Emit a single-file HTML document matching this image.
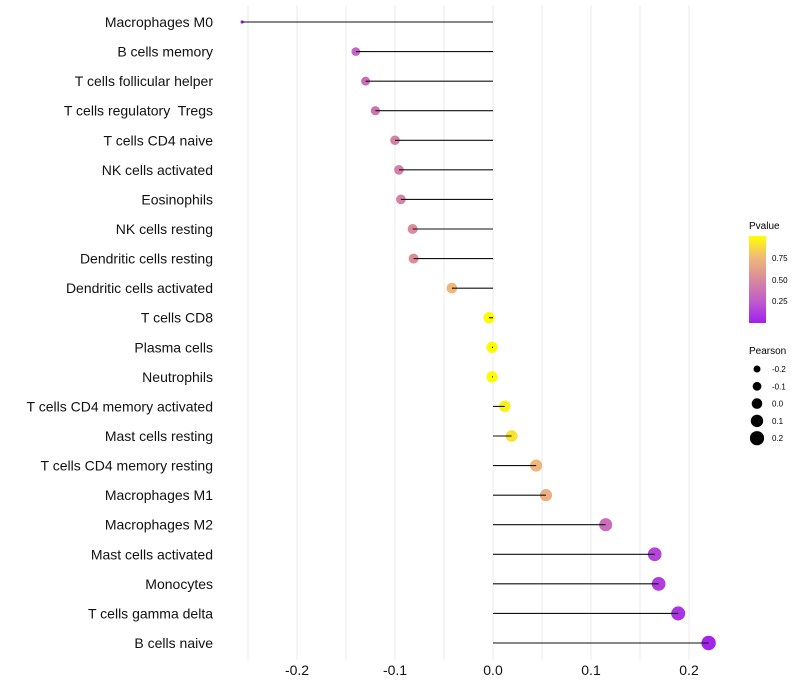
<!DOCTYPE html>
<html><head><meta charset="utf-8"><style>
body{margin:0;background:#fff;font-family:"Liberation Sans",sans-serif}
svg{display:block}
text{white-space:pre}
</style></head><body>
<svg id="chart" width="800" height="700" xmlns="http://www.w3.org/2000/svg" font-family="Liberation Sans, sans-serif">
<g id="grid"></g>
<g id="pts"></g>
<g id="marks"></g>
<g id="ylabels"></g>
<g id="xlabels"></g>
<g id="legend">
<defs><linearGradient id="pg" x1="0" y1="1" x2="0" y2="0">
<stop offset="0" stop-color="#a020f0"/><stop offset="0.25" stop-color="#c15ccc"/><stop offset="0.5" stop-color="#d98a9c"/><stop offset="0.75" stop-color="#efb87a"/><stop offset="1" stop-color="#ffff00"/></linearGradient></defs>
<text x="749" y="229" font-size="10">Pvalue</text>
<rect x="749" y="236" width="17" height="87" fill="url(#pg)"/>
<text x="772" y="261" font-size="8">0.75</text>
<text x="772" y="283" font-size="8">0.50</text>
<text x="772" y="304" font-size="8">0.25</text>
<text x="749" y="354" font-size="10">Pearson</text>
<g id="sizeleg"></g>
</g>
</svg>
<script>
const cats=["Macrophages M0","B cells memory","T cells follicular helper","T cells regulatory  Tregs","T cells CD4 naive","NK cells activated","Eosinophils","NK cells resting","Dendritic cells resting","Dendritic cells activated","T cells CD8","Plasma cells","Neutrophils","T cells CD4 memory activated","Mast cells resting","T cells CD4 memory resting","Macrophages M1","Macrophages M2","Mast cells activated","Monocytes","T cells gamma delta","B cells naive"];
const pearson=[-0.256,-0.140,-0.130,-0.120,-0.100,-0.096,-0.094,-0.082,-0.081,-0.042,-0.004,-0.001,-0.001,0.012,0.019,0.044,0.054,0.115,0.165,0.169,0.189,0.220];
const pvals=[0.02,0.30,0.35,0.37,0.45,0.45,0.46,0.50,0.52,0.75,0.98,0.99,0.99,0.95,0.90,0.75,0.70,0.35,0.15,0.12,0.08,0.02];
const xticks=[-0.2,-0.1,0.0,0.1,0.2];
const xtickLabels=["-0.2","-0.1","0.0","0.1","0.2"];
const sizeLegend=[-0.2,-0.1,0.0,0.1,0.2];
const NS="http://www.w3.org/2000/svg";
const xs=v=>493+v*980;
const ys=i=>22+i*(621/21);
const rs=v=>{const t=Math.max(0,(v+0.256)/0.476);return 1.6+5.6*Math.sqrt(t);};
const stops=[[0,[160,32,240]],[0.25,[193,92,204]],[0.5,[217,138,156]],[0.75,[239,184,122]],[1,[255,255,0]]];
function col(p){for(let k=1;k<stops.length;k++){if(p<=stops[k][0]){const a=stops[k-1],b=stops[k];const t=(p-a[0])/(b[0]-a[0]);const c=a[1].map((x,j)=>Math.round(x+(b[1][j]-x)*t));return`rgb(${c})`;}}return"rgb(255,255,0)";}
function mk(t,a,parent){const e=document.createElementNS(NS,t);for(const k in a)e.setAttribute(k,a[k]);parent.appendChild(e);return e;}
const grid=document.getElementById('grid'),pts=document.getElementById('pts'),marks=document.getElementById('marks'),yl=document.getElementById('ylabels'),xl=document.getElementById('xlabels'),sl=document.getElementById('sizeleg');
for(let v=-0.25;v<=0.2251;v+=0.05){const g=mk('line',{x1:xs(v),x2:xs(v),y1:5,y2:660,stroke:'#ebebeb','stroke-width':1},grid);

}
cats.forEach((c,i)=>{
const y=ys(i);
const p=mk('circle',{cx:xs(pearson[i]),cy:y,r:rs(pearson[i]),fill:col(pvals[i])},pts);


const s=mk('line',{x1:xs(0),x2:xs(pearson[i]),y1:y,y2:y,stroke:'#111','stroke-width':1.1},marks);


const t=mk('text',{x:213,y:y+5,'font-size':14,'text-anchor':'end',fill:'#111'},yl);
t.textContent=c;


});
xticks.forEach((v,i)=>{const t=mk('text',{x:xs(v),y:675,'font-size':14,'text-anchor':'middle',fill:'#111'},xl);
t.textContent=xtickLabels[i];

});
sizeLegend.forEach((v,i)=>{const y=369+i*17.3;
const c=mk('circle',{cx:757,cy:y,r:3.5+i*0.9,fill:'#000'},sl);


const t=mk('text',{x:772,y:y+3,'font-size':8},sl);
t.textContent=v.toFixed(1);

});
</script>
</body></html>
